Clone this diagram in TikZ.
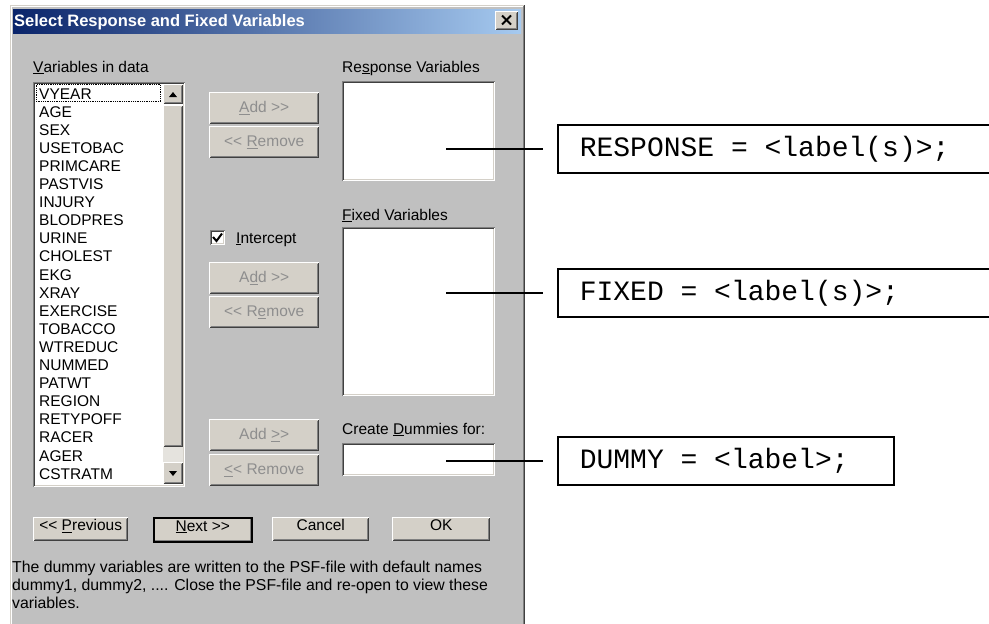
\documentclass[tikz,border=0pt]{standalone}
\usepackage{fontspec}
\setmainfont{Liberation Sans}
\newfontfamily\codefamily{Liberation Mono}
\newcommand{\uifont}{\fontsize{15.5}{18}\selectfont}
\newcommand{\notefont}{\fontsize{15.8}{18}\selectfont}
\newcommand{\titlefont}{\fontsize{16.5}{19}\selectfont\bfseries}
\newcommand{\codefont}{\codefamily\fontsize{28}{30}\selectfont}
\newcommand{\codesp}{\hphantom{R}}
\newcommand{\dblgt}{\mbox{>}\mbox{>}}
\newcommand{\dbllt}{\mbox{<}\mbox{<}}
\definecolor{dlgface}{HTML}{C0C0C0}
\definecolor{btnface}{HTML}{D4D0C8}
\definecolor{shadowgray}{HTML}{808080}
\definecolor{darkedge}{HTML}{404040}
\definecolor{titledark}{HTML}{0A246A}
\definecolor{titlelight}{HTML}{A6CAF0}
\definecolor{greytext}{HTML}{8E8E8E}

\begin{document}
\begin{tikzpicture}[x=1pt,y=-1pt]
\tikzset{
  raised/.style={path picture={
    \draw[white,line width=1pt] ([shift={(0.5pt,0.5pt)}]path picture bounding box.south west) |- ([shift={(-0.5pt,-0.5pt)}]path picture bounding box.north east);
    \draw[darkedge,line width=1pt] ([shift={(0.5pt,0.5pt)}]path picture bounding box.south west) -| ([shift={(-0.5pt,-0.5pt)}]path picture bounding box.north east);
    \draw[shadowgray,line width=1pt] ([shift={(1.5pt,1.5pt)}]path picture bounding box.south west) -| ([shift={(-1.5pt,-1.5pt)}]path picture bounding box.north east);
  }},
  sunken/.style={path picture={
    \draw[white,line width=1pt] ([shift={(0.5pt,0.5pt)}]path picture bounding box.south west) -| ([shift={(-0.5pt,-0.5pt)}]path picture bounding box.north east);
    \draw[btnface,line width=1pt] ([shift={(1.5pt,1.5pt)}]path picture bounding box.south west) -| ([shift={(-1.5pt,-1.5pt)}]path picture bounding box.north east);
    \draw[shadowgray,line width=1pt] ([shift={(0.5pt,0.5pt)}]path picture bounding box.south west) |- ([shift={(-0.5pt,-0.5pt)}]path picture bounding box.north east);
    \draw[darkedge,line width=1pt] ([shift={(1.5pt,1.5pt)}]path picture bounding box.south west) |- ([shift={(-1.5pt,-1.5pt)}]path picture bounding box.north east);
  }},
  winbtn/.style={rectangle,fill=btnface,raised,anchor=north west,inner sep=0pt,font=\uifont},
  midbtn/.style={winbtn,minimum width=110,minimum height=32,text=greytext},
  navbtn/.style={winbtn,minimum height=24,text height=11pt,text depth=8pt},
  sunkbox/.style={rectangle,fill=white,sunken,anchor=north west,inner sep=0pt},
  uilabel/.style={anchor=base west,inner sep=0pt,font=\uifont},
  listitem/.style={uilabel},
  annobox/.style={draw=black,line width=1.6pt,anchor=west,minimum height=48,inner xsep=22pt,
    align=left,font=\codefont,text height=15pt,text depth=0pt},
  callout/.style={draw=black,line width=1.6pt,shorten >=14pt}
}
\useasboundingbox (0,0) rectangle (989,624);
\clip (0,0) rectangle (989,624);
% dialog window
\fill[dlgface] (10,5) rectangle (525,630);
\draw[btnface,line width=1pt] (10.5,630) |- (524,5.5);
\draw[white,line width=1pt] (11.5,630) |- (523,6.5);
\draw[darkedge,line width=1pt] (524.5,5) -- (524.5,630);
\draw[shadowgray,line width=1pt] (523.5,6) -- (523.5,630);
\shade[left color=titledark,right color=titlelight] (13,9) rectangle (521,33);
\node[anchor=base west,inner sep=0pt,text=white,font=\titlefont] (n_title) at (14,26) {Select Response and Fixed Variables};
\node[winbtn,minimum width=23,minimum height=19] (n_close) at (495,11) {};
\draw[black,line width=2pt] (502,15.5) -- (511,24.5);
\draw[black,line width=2pt] (502,24.5) -- (511,15.5);
% variable list
\node[uilabel] (n_lblvars) at (33,72) {\underline{V}ariables in data};
\node[sunkbox,minimum width=152,minimum height=405] (n_list) at (33,82) {};
\node[listitem] (n_v0) at (39,99.0) {VYEAR};
\node[listitem] (n_v1) at (39,117.1) {AGE};
\node[listitem] (n_v2) at (39,135.2) {SEX};
\node[listitem] (n_v3) at (39,153.3) {USETOBAC};
\node[listitem] (n_v4) at (39,171.4) {PRIMCARE};
\node[listitem] (n_v5) at (39,189.5) {PASTVIS};
\node[listitem] (n_v6) at (39,207.6) {INJURY};
\node[listitem] (n_v7) at (39,225.7) {BLODPRES};
\node[listitem] (n_v8) at (39,243.8) {URINE};
\node[listitem] (n_v9) at (39,261.9) {CHOLEST};
\node[listitem] (n_v10) at (39,280.0) {EKG};
\node[listitem] (n_v11) at (39,298.1) {XRAY};
\node[listitem] (n_v12) at (39,316.2) {EXERCISE};
\node[listitem] (n_v13) at (39,334.3) {TOBACCO};
\node[listitem] (n_v14) at (39,352.4) {WTREDUC};
\node[listitem] (n_v15) at (39,370.5) {NUMMED};
\node[listitem] (n_v16) at (39,388.6) {PATWT};
\node[listitem] (n_v17) at (39,406.7) {REGION};
\node[listitem] (n_v18) at (39,424.8) {RETYPOFF};
\node[listitem] (n_v19) at (39,442.9) {RACER};
\node[listitem] (n_v20) at (39,461.0) {AGER};
\node[listitem] (n_v21) at (39,479.1) {CSTRATM};
\draw[black,line width=0.8pt,densely dotted] (36.5,84.5) rectangle (160.5,101.5);
% scroll bar
\node[winbtn,minimum width=20,minimum height=20] (n_up) at (163,84) {};
\node[winbtn,minimum width=20,minimum height=342] (n_thumb) at (163,105) {};
\fill[btnface!60!white] (163,447) rectangle (183,462);
\node[winbtn,minimum width=20,minimum height=22] (n_down) at (163,462) {};
\fill[black] (169,97) -- (177,97) -- (173,92) -- cycle;
\fill[black] (169,471) -- (177,471) -- (173,476) -- cycle;
% transfer buttons
\node[midbtn] (n_add1) at (209,92) {\underline{A}dd \dblgt};
\node[midbtn] (n_rem1) at (209,126) {\dbllt{} \underline{R}emove};
\node[sunkbox,minimum width=15,minimum height=15] (n_chk) at (210,230) {};
\draw[black,line width=2pt] (213,237) -- (216.5,241) -- (222,233.5);
\node[uilabel] (n_lblint) at (236,243) {\underline{I}ntercept};
\node[midbtn] (n_add2) at (209,262) {A\underline{d}d \dblgt};
\node[midbtn] (n_rem2) at (209,296) {\dbllt{} R\underline{e}move};
\node[midbtn] (n_add3) at (209,419) {Add \underline{\mbox{>}}\mbox{>}};
\node[midbtn] (n_rem3) at (209,454) {\underline{\mbox{<}}\mbox{<} Remove};
% target boxes
\node[uilabel] (n_lblresp) at (342,72) {Re\underline{s}ponse Variables};
\node[sunkbox,minimum width=153,minimum height=100] (n_respbox) at (342,81) {};
\node[uilabel] (n_lblfixed) at (342,220) {\underline{F}ixed Variables};
\node[sunkbox,minimum width=153,minimum height=169] (n_fixedbox) at (342,227) {};
\node[uilabel] (n_lbldummy) at (342,434) {Create \underline{D}ummies for:};
\node[sunkbox,minimum width=153,minimum height=33] (n_dummybox) at (342,443) {};
% navigation buttons
\node[navbtn,minimum width=95] (n_prev) at (33,517) {\dbllt{} \underline{P}revious};
\node[navbtn,minimum width=98,draw=black,line width=1.5pt] (n_next) at (153,517) {\underline{N}ext \dblgt};
\node[navbtn,minimum width=97] (n_cancel) at (272,517) {Cancel};
\node[navbtn,minimum width=98] (n_ok) at (392,517) {OK};
\node[uilabel,font=\notefont] (n_note1) at (12,572) {The dummy variables are written to the PSF-file with default names};
\node[uilabel,font=\notefont] (n_note2) at (12,590) {dummy1, dummy2, .... Close the PSF-file and re-open to view these};
\node[uilabel,font=\notefont] (n_note3) at (12,608) {variables.};
% statement boxes
\node[annobox,text width=420pt] (n_resp) at (557,149) {RESPONSE\codesp=\codesp<label(s)>;};
\node[annobox,text width=420pt] (n_fixed) at (557,293) {FIXED\codesp=\codesp<label(s)>;};
\node[annobox,text width=292pt] (n_dummy) at (557,461) {DUMMY\codesp=\codesp<label>;};
\coordinate (c_resp) at (446,149);
\coordinate (c_fixed) at (446,293);
\coordinate (c_dummy) at (446,461);
\draw[callout] (c_resp) -- (n_resp.west);
\draw[callout] (c_fixed) -- (n_fixed.west);
\draw[callout] (c_dummy) -- (n_dummy.west);
\end{tikzpicture}
\end{document}
